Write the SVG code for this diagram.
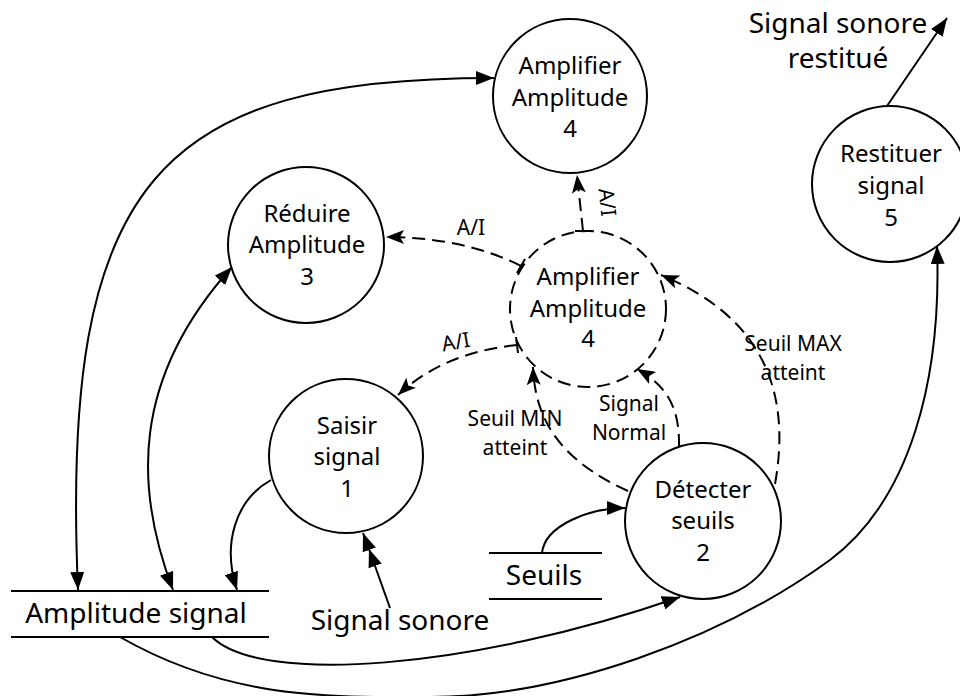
<svg xmlns="http://www.w3.org/2000/svg" width="960" height="696" viewBox="0 0 960 696">
  <style>
    .proc { fill: #ffffff; stroke: #000000; stroke-width: 2; }
    .ctrl { fill: none; stroke: #000000; stroke-width: 2; stroke-dasharray: 13 7; }
    .store { fill: none; stroke: #000000; stroke-width: 2; }
    .flow { fill: none; stroke: #000000; stroke-width: 2; }
    .dflow { fill: none; stroke: #000000; stroke-width: 2; stroke-dasharray: 13 7; }
    .tick { fill: none; stroke: #000000; stroke-width: 2; }
    text { font-family: "Noto Sans", "Open Sans", "DejaVu Sans", sans-serif; fill: #000000; text-anchor: middle; }
    .nt { font-size: 24px; }
    .st { font-size: 28px; }
    .lb { font-size: 21px; }
  </style>
  <defs>
    <marker id="arrow" viewBox="0 0 18 14" refX="18" refY="7" markerWidth="18" markerHeight="14" orient="auto-start-reverse" markerUnits="userSpaceOnUse">
      <path d="M0,0 L18,7 L0,14 z" fill="#000000"/>
    </marker>
    <marker id="arrowD" viewBox="0 0 18 14" refX="18" refY="7" markerWidth="18" markerHeight="14" orient="auto" markerUnits="userSpaceOnUse">
      <path d="M0,0 L18,7 L0,14 L4,7 z" fill="#000000"/>
    </marker>
  </defs>

  <!-- data and control flows -->
  <g id="connectors">
    <!-- Amplitude signal <-> Amplifier Amplitude -->
    <path class="flow" d="M78 590 C60 180 160 78 494 78" marker-start="url(#arrow)" marker-end="url(#arrow)"/>
    <!-- Amplitude signal <-> Réduire Amplitude -->
    <path class="flow" d="M173 590 C135 490 130 380 232 267" marker-start="url(#arrow)" marker-end="url(#arrow)"/>
    <!-- Saisir signal -> Amplitude signal -->
    <path class="flow" d="M271 480 C235 500 222 545 237 590" marker-end="url(#arrow)"/>
    <!-- Signal sonore -> Saisir signal -->
    <path class="flow" d="M390 608 L369 549 L363 533" marker-mid="url(#arrow)" marker-end="url(#arrow)"/>
    <!-- Seuils -> Détecter seuils -->
    <path class="flow" d="M542 553 C545 525 590 508 625 508" marker-end="url(#arrow)"/>
    <!-- Amplitude signal -> Détecter seuils -->
    <path class="flow" d="M212 637 C260 685 470 670 680 597" marker-end="url(#arrow)"/>
    <!-- Amplitude signal -> Restituer signal -->
    <path class="flow" d="M120 637 C230 700 330 697 430 697 C560 697 720 640 830 560 C910 500 942 380 937 246" marker-end="url(#arrow)"/>
    <!-- Restituer signal -> Signal sonore restitué -->
    <path class="flow" d="M887 106 L947 18" marker-end="url(#arrow)"/>

    <!-- control flows from the controller -->
    <path class="dflow" d="M583 231 C581 212 579 194 577 175" marker-end="url(#arrowD)"/>
    <line class="tick" x1="575" y1="231" x2="591" y2="231"/>
    <path class="dflow" d="M521 266 C480 245 430 237 386 237" marker-end="url(#arrowD)"/>
    <line class="tick" x1="517" y1="273" x2="525" y2="259"/>
    <path class="dflow" d="M517 345 C470 350 430 365 398 395" marker-end="url(#arrowD)"/>
    <line class="tick" x1="516" y1="337" x2="518" y2="353"/>

    <!-- control flows from Détecter seuils -->
    <path class="dflow" d="M628 491 C560 460 535 420 533 367" marker-end="url(#arrowD)"/>
    <path class="dflow" d="M679 447 C680 405 665 385 637 369" marker-end="url(#arrowD)"/>
    <path class="dflow" d="M775 484 C790 400 770 320 661 275" marker-end="url(#arrowD)"/>

    <!-- flow labels -->
    <text class="lb" transform="translate(600 203) rotate(84)">A/I</text>
    <text class="lb" x="471" y="235">A/I</text>
    <text class="lb" transform="translate(457 349) rotate(-10)">A/I</text>
    <text class="lb" x="515" y="426">Seuil MIN</text>
    <text class="lb" x="515" y="455">atteint</text>
    <text class="lb" x="629" y="411">Signal</text>
    <text class="lb" x="629" y="440">Normal</text>
    <text class="lb" x="793" y="351">Seuil MAX</text>
    <text class="lb" x="793" y="380">atteint</text>
  </g>

  <g id="amplifier">
    <circle class="proc" cx="570" cy="96" r="77"/>
    <text class="nt" x="570" y="74">Amplifier</text>
    <text class="nt" x="570" y="106">Amplitude</text>
    <text class="nt" x="570" y="137">4</text>
  </g>

  <g id="reduire">
    <circle class="proc" cx="306" cy="245" r="78"/>
    <text class="nt" x="307" y="222">Réduire</text>
    <text class="nt" x="307" y="253">Amplitude</text>
    <text class="nt" x="307" y="285">3</text>
  </g>

  <g id="controller">
    <circle class="ctrl" cx="588" cy="309" r="78"/>
    <text class="nt" x="588" y="285">Amplifier</text>
    <text class="nt" x="588" y="317">Amplitude</text>
    <text class="nt" x="588" y="347">4</text>
  </g>

  <g id="saisir">
    <circle class="proc" cx="346" cy="456" r="77"/>
    <text class="nt" x="347" y="434">Saisir</text>
    <text class="nt" x="347" y="465">signal</text>
    <text class="nt" x="347" y="497">1</text>
  </g>

  <g id="detecter">
    <circle class="proc" cx="703" cy="521" r="78"/>
    <text class="nt" x="703" y="498">Détecter</text>
    <text class="nt" x="703" y="529">seuils</text>
    <text class="nt" x="703" y="561">2</text>
  </g>

  <g id="restituer">
    <circle class="proc" cx="890" cy="184" r="78"/>
    <text class="nt" x="891" y="162">Restituer</text>
    <text class="nt" x="891" y="194">signal</text>
    <text class="nt" x="891" y="226">5</text>
  </g>

  <g id="store-amplitude">
    <line class="store" x1="11" y1="591" x2="269" y2="591"/>
    <line class="store" x1="11" y1="637" x2="269" y2="637"/>
    <text class="st" x="136" y="623">Amplitude signal</text>
  </g>

  <g id="store-seuils">
    <line class="store" x1="489" y1="553" x2="602" y2="553"/>
    <line class="store" x1="489" y1="599" x2="602" y2="599"/>
    <text class="st" x="544" y="585">Seuils</text>
  </g>

  <g id="input-signal">
    <text class="st" x="400" y="630">Signal sonore</text>
  </g>

  <g id="output-signal">
    <text class="st" x="838" y="33">Signal sonore</text>
    <text class="st" x="838" y="68">restitué</text>
  </g>
</svg>
